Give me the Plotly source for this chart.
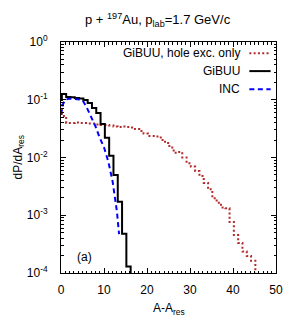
import plotly.graph_objects as go

# ---------------- data ----------------
# GiBUU (solid black, step histogram): bin left edges and levels
gibuu_edges = [0, 0.2, 1.2, 2.2, 3.2, 4.2, 5.2, 6.2, 7.2, 8.2, 9.2, 10.2, 11.2, 12.2, 13.2, 14.2, 15.2, 16.2]
gibuu_vals = [0.099, 0.126, 0.112, 0.110, 0.107, 0.105, 0.099, 0.088, 0.072, 0.059, 0.038, 0.0219,
              0.0107, 0.0050, 0.00172, 0.00048, 0.000129, 1e-6]

# INC (dashed blue line)
inc_a = [0, 0.5, 1, 2, 3, 4, 5, 6, 7, 8, 9, 10, 11, 12, 13, 13.5]
inc_vals = [0.055, 0.085, 0.100, 0.105, 0.104, 0.102, 0.099, 0.073, 0.051, 0.035, 0.022, 0.015,
            0.0085, 0.00385, 0.00117, 0.00047]

# GiBUU, hole excitation only (dotted red, step histogram)
hole_edges = [0, 0.2] + [k + 1.2 for k in range(0, 45)]
hole_vals = [0.0811, 0.0523, 0.0396, 0.0396, 0.0404, 0.0396, 0.0396, 0.0388, 0.0388, 0.0373, 0.0365,
             0.0365, 0.0358, 0.0344, 0.0337, 0.0344, 0.0337, 0.0331, 0.0311, 0.0288, 0.0260, 0.0236,
             0.0236, 0.0231, 0.0201, 0.0178, 0.0149, 0.0121, 0.01245, 0.0100, 0.00794, 0.00698,
             0.00584, 0.00478, 0.00362, 0.00281, 0.00197, 0.00165, 0.00136, 0.00132, 0.000764,
             0.000455, 0.000331, 0.000236, 0.000197, 0.000163, 1e-6]

x_ticks = [0, 10, 20, 30, 40, 50]
y_ticks = [1e-4, 1e-3, 1e-2, 1e-1, 1]
y_ticktext = ["10<sup>-4</sup>", "10<sup>-3</sup>", "10<sup>-2</sup>", "10<sup>-1</sup>", "10<sup>0</sup>"]

legend_names = ["GiBUU, hole exc. only", "GiBUU", "INC"]
title_text = "p + <sup>197</sup>Au, p<sub>lab</sub>=1.7 GeV/c"

# ---------------- styles ----------------
RED = "#b22a2a"
BLUE = "#0000ff"
BLACK = "#000000"
FONT = "Liberation Sans, Arial, sans-serif"

fig = go.Figure()
fig.add_trace(go.Scatter(x=hole_edges, y=hole_vals, mode="lines", line_shape="hv",
                         line=dict(color=RED, width=2, dash="2px,2.3px"), name=legend_names[0]))
fig.add_trace(go.Scatter(x=gibuu_edges, y=gibuu_vals, mode="lines", line_shape="hv",
                         line=dict(color=BLACK, width=2), name=legend_names[1]))
fig.add_trace(go.Scatter(x=inc_a, y=inc_vals, mode="lines",
                         line=dict(color=BLUE, width=2, dash="5px,3.5px"), name=legend_names[2]))

minor_x = [v for v in range(0, 51) if v % 10 != 0]
minor_y = [m * 10 ** e for e in range(-4, 0) for m in range(2, 10)]

fig.update_xaxes(range=[0, 50], tickvals=x_ticks, ticks="inside", ticklen=5, tickwidth=1,
                 tickcolor=BLACK, showline=True, linecolor=BLACK, linewidth=1, mirror="allticks",
                 showgrid=False, zeroline=False, automargin=False,
                 minor=dict(tickvals=minor_x, ticks="inside", ticklen=2.5, tickcolor=BLACK, tickwidth=1),
                 tickfont=dict(size=12, color=BLACK, family=FONT), ticklabelstandoff=6)
fig.update_yaxes(type="log", range=[-4, 0], tickvals=y_ticks, ticktext=y_ticktext, ticks="inside",
                 ticklen=5, tickwidth=1, tickcolor=BLACK, showline=True, linecolor=BLACK, linewidth=1,
                 mirror="allticks", showgrid=False, zeroline=False, automargin=False,
                 minor=dict(tickvals=minor_y, ticks="inside", ticklen=2.5, tickcolor=BLACK, tickwidth=1),
                 tickfont=dict(size=12, color=BLACK, family=FONT), ticklabelstandoff=10)

# title and axis titles
fig.add_annotation(x=0.45, y=1.095, xref="paper", yref="paper", text=title_text, showarrow=False,
                   xanchor="center", yanchor="middle", font=dict(size=13, color=BLACK, family=FONT))
fig.add_annotation(x=0.5, y=-0.158, xref="paper", yref="paper", text="A-A<sub>res</sub>", showarrow=False,
                   xanchor="center", yanchor="middle", font=dict(size=12, color=BLACK, family=FONT))
fig.add_annotation(x=-0.20, y=0.5, xref="paper", yref="paper", text="dP/dA<sub>res</sub>", showarrow=False,
                   textangle=-90, xanchor="center", yanchor="middle",
                   font=dict(size=12, color=BLACK, family=FONT))

# legend drawn as right-aligned text with line samples on the right
leg_y = [0.951, 0.874, 0.795]
leg_styles = [dict(color=RED, width=2, dash="2px,2.3px"), dict(color=BLACK, width=2),
              dict(color=BLUE, width=2, dash="5px,3.5px")]
for name, yy, st in zip(legend_names, leg_y, leg_styles):
    fig.add_annotation(x=0.842, y=yy, xref="paper", yref="paper", text=name, showarrow=False,
                       xanchor="right", yanchor="middle", font=dict(size=12, color=BLACK, family=FONT))
    fig.add_shape(type="line", x0=0.876, x1=0.975, y0=yy, y1=yy, xref="paper", yref="paper", line=st)

fig.add_annotation(x=0.11, y=0.07, xref="paper", yref="paper", text="(a)", showarrow=False,
                   xanchor="center", yanchor="middle", font=dict(size=12, color=BLACK, family=FONT))

# the page body adds an 8px offset, so the figure is 292x324 placed at (8, 8)
fig.update_layout(
    width=292, height=324,
    margin=dict(l=53, r=24, t=34, b=59, autoexpand=False),
    paper_bgcolor="white", plot_bgcolor="white",
    showlegend=False,
)

fig.write_html("out.html")
